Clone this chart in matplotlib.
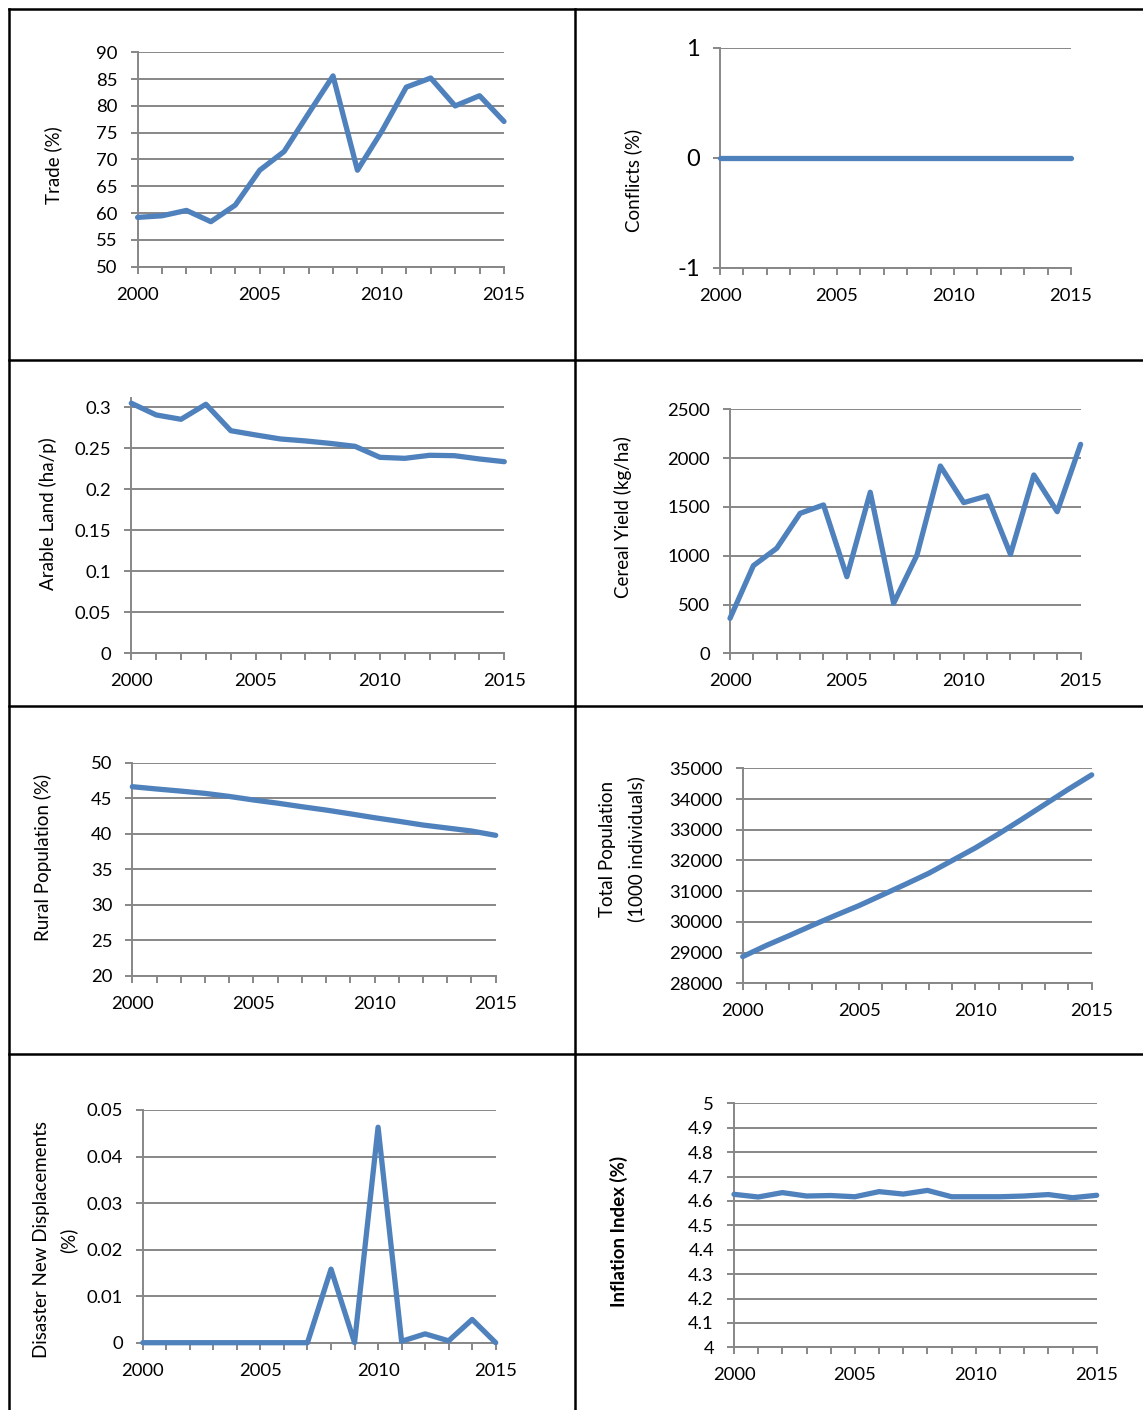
import matplotlib
matplotlib.use("Agg")
import numpy as np
import matplotlib.pyplot as plt
from matplotlib.lines import Line2D

plt.rcParams["font.family"] = ["Lato", "DejaVu Sans"]

W, H = 1143, 1410
BLUE = "#4F81BD"
GREY = "#878787"

years = list(range(2000, 2016))

trade = [59.2, 59.5, 60.5, 58.4, 61.5, 68.0, 71.5, 78.6, 85.6, 68.0,
         75.3, 83.5, 85.2, 80.0, 81.9, 77.1]
conflicts = [0] * 16
arable = [0.305, 0.2907, 0.2854, 0.3037, 0.2715, 0.2663, 0.2614, 0.259,
          0.256, 0.2524, 0.239, 0.2378, 0.2415, 0.241, 0.237, 0.2337]
cereal = [358, 898, 1076, 1434, 1520, 785, 1650, 512, 1007, 1919,
          1544, 1612, 1014, 1827, 1451, 2141]
rural = [46.62, 46.3, 46.0, 45.68, 45.25, 44.75, 44.3, 43.8, 43.33, 42.8,
         42.25, 41.75, 41.22, 40.8, 40.38, 39.77]
total_pop = [28869, 29227, 29553, 29890, 30215, 30530, 30877, 31225, 31583,
             31996, 32408, 32864, 33342, 33831, 34319, 34786]
disaster = [0, 0, 0, 0, 0, 0, 0, 0, 0.0158, 0, 0.0463, 0.0003, 0.0019,
            0.0004, 0.005, 0]
inflation = [4.627, 4.616, 4.634, 4.620, 4.622, 4.617, 4.638, 4.628, 4.643,
             4.617, 4.617, 4.617, 4.620, 4.626, 4.613, 4.623]

fig = plt.figure(figsize=(W / 100, H / 100), dpi=100)


def fx(x):
    return x / W


def fy(y):
    return 1 - y / H


def panel(x0, x1, ytop, ybot, values, ylim, yticks, ysize=13.3):
    ax = fig.add_axes([fx(x0), fy(ybot), (x1 - x0) / W, (ybot - ytop) / H])
    ax.plot(years, values, color=BLUE, lw=3.8, solid_capstyle="round",
            solid_joinstyle="round", clip_on=False, zorder=3)
    ax.set_xlim(2000, 2015)
    ax.set_ylim(*ylim)
    ax.set_yticks(yticks)
    ax.set_yticklabels([f"{v:g}" for v in yticks])
    ax.set_xticks(years)
    ax.set_xticklabels([str(y) if y % 5 == 0 else "" for y in years])
    ax.grid(axis="y", color=GREY, lw=1.4)
    ax.set_axisbelow(True)
    for s in ["top", "right"]:
        ax.spines[s].set_visible(False)
    for s in ["left", "bottom"]:
        ax.spines[s].set_color(GREY)
        ax.spines[s].set_linewidth(1.4)
    ax.tick_params(axis="both", direction="out", length=5, width=1.4,
                   color=GREY, labelcolor="black")
    ax.tick_params(axis="x", labelsize=13.3, pad=9.4)
    ax.tick_params(axis="y", labelsize=ysize, pad=9.4)
    return ax


panel(137.6, 504, 52.3, 266.7, trade, (50, 90), list(range(50, 95, 5)))
panel(720, 1071, 47.7, 267.7, conflicts, (-1, 1), [-1, 0, 1], ysize=17)
panel(131.3, 504.3, 398.3, 653.3, arable, (0, 0.311),
      [round(v, 2) for v in np.arange(0, 0.31, 0.05)])
panel(730, 1080.6, 409.3, 653.3, cereal, (0, 2500), list(range(0, 2501, 500)))
panel(132.3, 495.7, 762.7, 975.7, rural, (20, 50), list(range(20, 51, 5)))
panel(742.7, 1091.7, 768.3, 983.3, total_pop, (28000, 35000),
      list(range(28000, 35001, 1000)))
panel(142.8, 495.7, 1110, 1342.7, disaster, (0, 0.05),
      [round(v, 2) for v in np.arange(0, 0.051, 0.01)])
panel(734, 1096.7, 1103.3, 1347.3, inflation, (4, 5),
      [round(v, 1) for v in np.arange(4, 5.01, 0.1)])

# axis titles
lab = dict(rotation=90, ha="center", va="center", fontsize=13.5)
fig.text(fx(53.6), fy(165), "Trade (%)", **lab)
fig.text(fx(633), fy(180), "Conflicts (%)", **lab)
fig.text(fx(48), fy(514), "Arable Land (ha/p)", **lab)
fig.text(fx(623), fy(517), "Cereal Yield (kg/ha)", **lab)
fig.text(fx(43), fy(857), "Rural Population (%)", **lab)
fig.text(fx(608), fy(849), "Total Population", **lab)
fig.text(fx(636), fy(849), "(1000 individuals)", **lab)
fig.text(fx(41.4), fy(1240), "Disaster New Displacements", **lab)
fig.text(fx(68.4), fy(1240), "(%)", **lab)
fig.text(fx(618.6), fy(1231), "Inflation Index (%)", fontweight="bold", **lab)

# table borders
bw = 1.8
for yy in [9, 360, 705.5, 1054]:
    fig.add_artist(Line2D([fx(9), 1], [fy(yy), fy(yy)], color="black", lw=bw))
for xx in [9, 575]:
    fig.add_artist(Line2D([fx(xx), fx(xx)], [fy(9), 0], color="black", lw=bw))

fig.savefig("out.png", dpi=100)
